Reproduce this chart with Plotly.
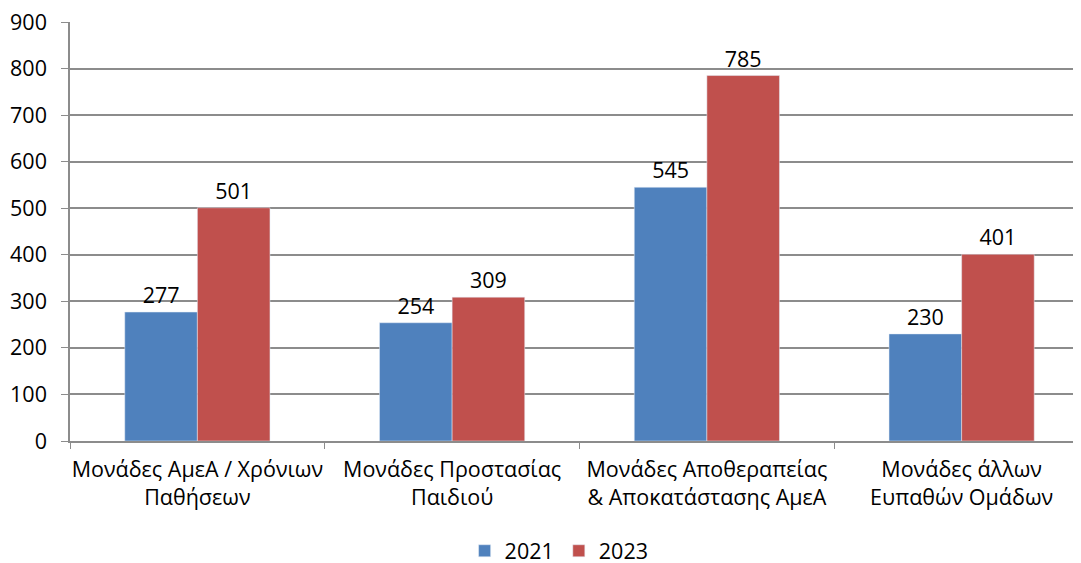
import plotly.graph_objects as go

categories = ["Μονάδες ΑμεΑ / Χρόνιων<br>Παθήσεων", "Μονάδες Προστασίας<br>Παιδιού",
              "Μονάδες Αποθεραπείας<br>& Αποκατάστασης ΑμεΑ", "Μονάδες άλλων<br>Ευπαθών Ομάδων"]
values_2021 = [277, 254, 545, 230]
values_2023 = [501, 309, 785, 401]
y_ticks = [0, 100, 200, 300, 400, 500, 600, 700, 800, 900]

FONT = "Open Sans"
FS = 21.5
grid = "#8c8c8c"

fig = go.Figure()
fig.add_bar(name="2021", x=categories, y=values_2021, marker_color="#4F81BD",
            text=values_2021, textposition="outside", cliponaxis=False,
            textfont=dict(size=FS, color="black", family=FONT))
fig.add_bar(name="2023", x=categories, y=values_2023, marker_color="#C0504D",
            text=values_2023, textposition="outside", cliponaxis=False,
            textfont=dict(size=FS, color="black", family=FONT))

fig.update_layout(
    width=1081, height=563,
    margin=dict(l=62, r=0, t=14, b=130, autoexpand=False),
    paper_bgcolor="white", plot_bgcolor="white",
    barmode="group", bargap=0.43, bargroupgap=0,
    font=dict(family=FONT, size=FS, color="black"),
    showlegend=True,
    legend=dict(orientation="h", x=0.48, xanchor="center", y=-0.262, yanchor="middle",
                font=dict(size=FS), itemwidth=30, traceorder="normal"),
)
fig.update_xaxes(range=[-0.5, 3.5], showline=True, linecolor=grid, linewidth=1.5,
                 ticks="outside", tickson="boundaries", ticklen=6, tickcolor=grid,
                 tickfont=dict(size=FS), showgrid=False, automargin=False, tickangle=0,
                 ticklabeloverflow="allow", ticklabelstandoff=8)
fig.update_yaxes(range=[0, 900], tickvals=y_ticks, showline=True, linecolor=grid, linewidth=1.5,
                 ticks="outside", ticklen=7, tickcolor=grid, showgrid=True, gridcolor=grid,
                 gridwidth=1.5, tickfont=dict(size=FS), zeroline=False, automargin=False,
                 ticklabelstandoff=10, ticklabeloverflow="allow")

fig.write_html("out.html")
